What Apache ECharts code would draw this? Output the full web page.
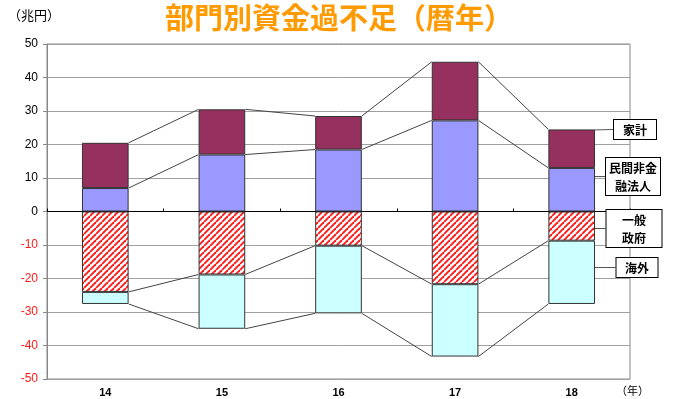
<!DOCTYPE html>
<html>
<head>
<meta charset="utf-8">
<script src="https://cdn.jsdelivr.net/npm/echarts@6/dist/echarts.min.js"></script>
<style>
  html, body { margin: 0; padding: 0; background: #fff; }
  #chart { width: 676px; height: 399px; }
</style>
</head>
<body>
<div id="chart"></div>
<script>
// 部門別資金過不足（暦年）, 兆円
const years = ['14', '15', '16', '17', '18'];
const household = [13.5, 13.5, 10, 17.5, 11.5];      // 家計
const corporate = [7, 17, 18.5, 27.2, 13];            // 民間非金融法人
const government = [-24, -18.8, -10.2, -21.7, -8.7];  // 一般政府
const overseas = [-3.6, -16.2, -20.2, -21.6, -18.9];  // 海外
const yTicks = [-50, -40, -30, -20, -10, 0, 10, 20, 30, 40, 50];

const JP = '"Noto Sans CJK JP", "Noto Sans", sans-serif';

// red diagonal hatch for 一般政府
function hatch() {
  const s = 6;
  const c = document.createElement('canvas');
  c.width = s; c.height = s;
  const g = c.getContext('2d');
  g.fillStyle = '#ffffff';
  g.fillRect(0, 0, s, s);
  g.strokeStyle = '#ff1a1a';
  g.lineWidth = 1.9;
  for (let k = -s; k <= s; k += s) {
    g.beginPath();
    g.moveTo(k, s);
    g.lineTo(k + s, 0);
    g.stroke();
  }
  return c;
}

// stacked boundaries joined between neighbouring bars
const levels = [
  corporate.map(v => v),
  corporate.map((v, i) => v + household[i]),
  government.map(v => v),
  government.map((v, i) => v + overseas[i])
];
const joinData = [];
levels.forEach(lv => {
  for (let i = 0; i < lv.length - 1; i++) joinData.push([i, lv[i], lv[i + 1]]);
});

const last = years.length - 1;
function withTag(values, text, boxWidth) {
  return values.map((v, i) => i === last ? {
    value: v,
    label: { show: true, formatter: text, width: boxWidth }
  } : v);
}

const tagLabel = {
  show: false,
  position: 'right',
  color: '#000',
  fontFamily: JP,
  fontWeight: 'bold',
  fontSize: 12,
  lineHeight: 18,
  align: 'center',
  backgroundColor: '#fff',
  borderColor: '#000',
  borderWidth: 1,
  padding: [1, 3, 0, 3]
};
const tagLine = { show: true, lineStyle: { color: '#555', width: 1 } };
const barBorder = { borderColor: '#333', borderWidth: 1 };

const chart = echarts.init(document.getElementById('chart'));
chart.setOption({
  animation: false,
  backgroundColor: '#fff',
  title: {
    text: '部門別資金過不足（暦年）',
    left: 334, top: -2, textAlign: 'center',
    textStyle: { color: '#ff9a00', fontSize: 29, fontWeight: 'bold', fontFamily: JP }
  },
  graphic: [
    { type: 'text', left: 8, top: 9,
      style: { text: '（兆円）', font: '13px ' + JP, fill: '#000' } },
    { type: 'text', left: 616, top: 385,
      style: { text: '（年）', font: '11px ' + JP, fill: '#000' } }
  ],
  grid: {
    left: 47, right: 46, top: 44, bottom: 20,
    show: true, borderColor: '#888', borderWidth: 1, backgroundColor: 'transparent'
  },
  xAxis: [{
    type: 'category', data: years, position: 'bottom',
    axisLine: { onZero: false, show: false },
    axisTick: { show: false },
    axisLabel: { color: '#000', fontSize: 11, fontWeight: 'bold', fontFamily: 'Liberation Sans, Arial', margin: 8 },
    splitLine: { show: false }
  }, {
    type: 'category', data: years, position: 'bottom',
    axisLine: { onZero: true, lineStyle: { color: '#000', width: 1 } },
    axisTick: { show: true, inside: true, length: 3, lineStyle: { color: '#000' } },
    axisLabel: { show: false }
  }],
  yAxis: {
    type: 'value', min: yTicks[0], max: yTicks[yTicks.length - 1], interval: 10,
    axisLine: { show: true, lineStyle: { color: '#888' } },
    axisTick: { show: true, length: 4, lineStyle: { color: '#888' } },
    axisLabel: {
      fontSize: 12, fontFamily: 'Liberation Sans, Arial', margin: 9,
      color: v => (v < 0 ? '#ff1a1a' : '#000')
    },
    splitLine: { show: true, lineStyle: { color: '#a0a0a0', width: 1 } }
  },
  series: [
    {
      name: '民間非金融法人', type: 'bar', stack: 'sector', barWidth: '40%',
      data: withTag(corporate, '民間非金\n融法人', 48),
      itemStyle: Object.assign({ color: '#9999ff' }, barBorder),
      label: tagLabel, labelLine: tagLine,
      labelLayout: { x: 633, y: 158 }
    },
    {
      name: '家計', type: 'bar', stack: 'sector',
      data: withTag(household, '家計', 36),
      itemStyle: Object.assign({ color: '#96305e' }, barBorder),
      label: tagLabel, labelLine: tagLine,
      labelLayout: { x: 635, y: 120 }
    },
    {
      name: '一般政府', type: 'bar', stack: 'sector',
      data: withTag(government, '一般\n政府', 49),
      itemStyle: Object.assign({ color: { image: hatch(), repeat: 'repeat' } }, barBorder),
      label: tagLabel, labelLine: tagLine,
      labelLayout: { x: 634, y: 210 }
    },
    {
      name: '海外', type: 'bar', stack: 'sector',
      data: withTag(overseas, '海外', 35),
      itemStyle: Object.assign({ color: '#ccffff' }, barBorder),
      label: tagLabel, labelLine: tagLine,
      labelLayout: { x: 637, y: 258 }
    },
    {
      name: 'join', type: 'custom', z: 1,
      data: joinData,
      renderItem: (params, api) => {
        const i = api.value(0);
        const a = api.coord([i, api.value(1)]);
        const b = api.coord([i + 1, api.value(2)]);
        const half = api.size([1, 0])[0] * 0.2;
        return {
          type: 'line',
          shape: { x1: a[0] + half, y1: a[1], x2: b[0] - half, y2: b[1] },
          style: { stroke: '#444', lineWidth: 1 }
        };
      }
    }
  ]
});
</script>
</body>
</html>
